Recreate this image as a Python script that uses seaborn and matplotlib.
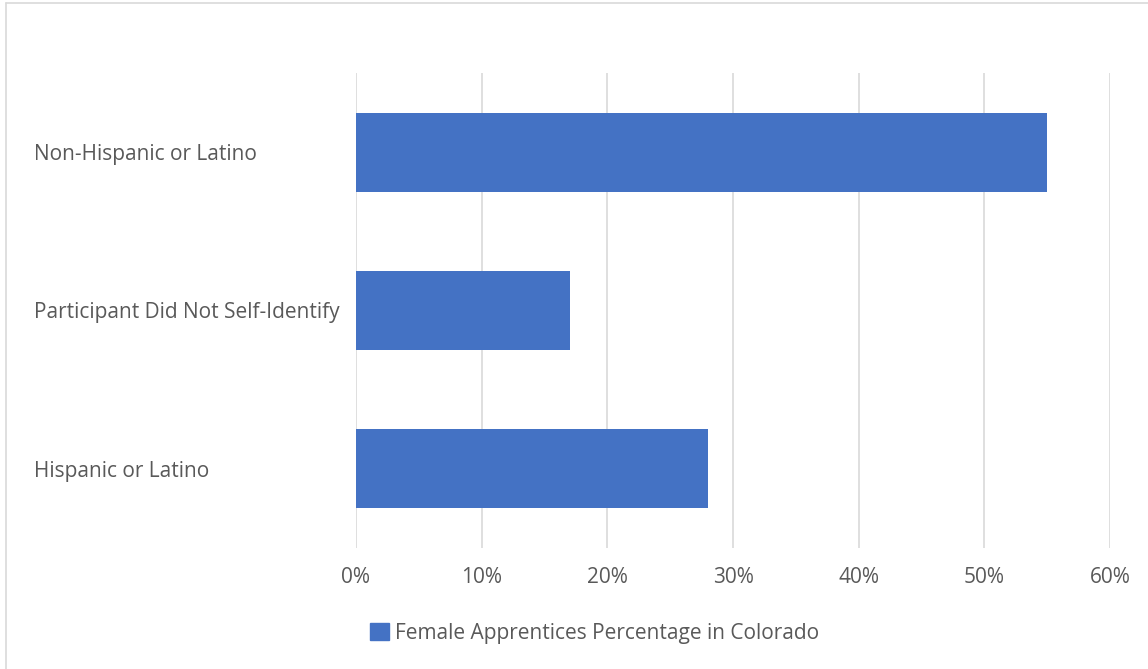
import matplotlib
matplotlib.use("Agg")
import matplotlib.pyplot as plt
import seaborn as sns
import pandas as pd
from matplotlib.lines import Line2D
from matplotlib.patches import Patch
from matplotlib.ticker import FuncFormatter

categories = ["Non-Hispanic or Latino", "Participant Did Not Self-Identify", "Hispanic or Latino"]
percentages = [55, 17, 28]
series_name = "Female Apprentices Percentage in Colorado"

bar_color = "#4472C4"
text_color = "#595959"
grid_color = "#D9D9D9"

sns.set_theme(style="white")
plt.rcParams["font.family"] = ["Open Sans", "DejaVu Sans"]

df = pd.DataFrame({"Category": categories, "Percentage": percentages})

W, H = 1148, 669
fs = 15
fig = plt.figure(figsize=(W / 100, H / 100), dpi=100)
ax = fig.add_axes([356 / W, 1 - 548 / H, (1110 - 356) / W, (548 - 73) / H])

sns.barplot(data=df, y="Category", x="Percentage", orient="h", color=bar_color,
            saturation=1, width=0.5, linewidth=0, ax=ax)

ax.set_xlim(0, 60)
ax.set_ylim(2.5, -0.5)
ax.set_xticks(range(0, 61, 10))
ax.xaxis.set_major_formatter(FuncFormatter(lambda v, _: f"{v:.0f}%"))
ax.grid(axis="x", color=grid_color, linewidth=1.2)
ax.set_axisbelow(True)
for s in ax.spines.values():
    s.set_visible(False)
ax.set_xlabel("")
ax.set_ylabel("")

ax.tick_params(axis="x", length=0, pad=14, labelsize=fs, labelcolor=text_color)
ax.tick_params(axis="y", length=0, pad=(356 - 34) * 72 / 100, labelsize=fs, labelcolor=text_color)
for lab in ax.get_yticklabels():
    lab.set_horizontalalignment("left")

# chart frame (top and left edges visible)
fig.add_artist(Line2D([6 / W, 1.01], [1 - 3 / H, 1 - 3 / H], transform=fig.transFigure,
                      color=grid_color, linewidth=1.2))
fig.add_artist(Line2D([6 / W, 6 / W], [-0.01, 1 - 3 / H], transform=fig.transFigure,
                      color=grid_color, linewidth=1.2))

handle = Patch(facecolor=bar_color, edgecolor=bar_color)
fig.legend([handle], [series_name], loc="center", bbox_to_anchor=(595 / W, 1 - 633 / H),
           frameon=False, fontsize=fs, labelcolor=text_color, handlelength=0.9,
           handleheight=0.9, handletextpad=0.3)

fig.savefig("out.png", dpi=100, facecolor="white")
